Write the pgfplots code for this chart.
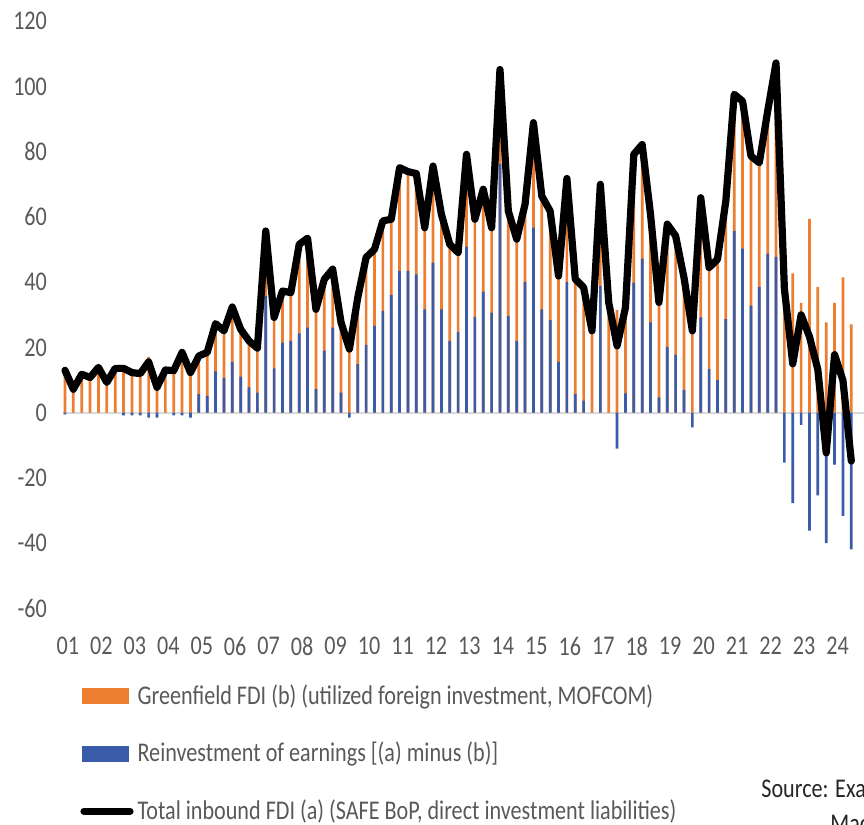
\documentclass[border=0pt]{standalone}
\usepackage{fontspec}
\setmainfont{Carlito}[FakeStretch=0.82]
\usepackage{pgfplots}
\pgfplotsset{compat=1.18}
\usepackage{pgfplotstable}
\definecolor{gfOrange}{HTML}{ED7D31}
\definecolor{riBlue}{HTML}{3A5BA8}
\definecolor{txtGray}{HTML}{595959}

\pgfplotstableread{
i t r
0 13.0 -0.5
1 7.2 0
2 11.8 0
3 10.8 0
4 13.9 0
5 9.3 0
6 13.6 0
7 13.6 -0.8
8 12.3 -0.8
9 12.0 -0.8
10 15.6 -1.5
11 7.8 -1.5
12 13.1 0
13 12.9 -0.8
14 18.5 -0.8
15 12.3 -1.5
16 17.4 5.7
17 18.5 5.2
18 27.3 12.7
19 25.1 10.6
20 32.4 15.6
21 25.6 11.1
22 22.0 7.8
23 19.8 6.2
24 55.7 35.8
25 29.2 13.6
26 37.3 21.5
27 36.8 22.0
28 51.6 24.3
29 53.5 26.1
30 31.7 7.2
31 40.9 19.0
32 44.0 26.1
33 27.7 6.2
34 19.5 -1.5
35 35.3 14.9
36 47.6 20.8
37 50.1 26.6
38 58.8 31.2
39 59.3 36.1
40 75.1 43.5
41 73.9 43.5
42 73.3 42.4
43 56.7 31.7
44 75.6 46.0
45 60.8 31.7
46 51.6 22.0
47 49.1 24.8
48 79.2 50.9
49 59.3 29.4
50 68.5 37.1
51 56.7 30.7
52 105.2 76.3
53 61.8 29.7
54 53.2 22.0
55 63.9 40.1
56 88.9 56.7
57 66.4 31.7
58 61.8 28.4
59 41.9 15.6
60 71.8 40.0
61 41.0 5.7
62 38.4 3.7
63 25.1 0
64 70.0 38.9
65 33.8 0
66 20.5 -11.0
67 32.2 5.9
68 79.2 39.9
69 82.2 47.2
70 60.8 27.7
71 33.8 4.7
72 57.8 20.2
73 54.2 17.8
74 41.4 7.0
75 25.1 -4.5
76 65.9 29.2
77 44.5 13.4
78 47.0 10.0
79 64.9 28.7
80 97.6 55.7
81 95.5 50.3
82 78.7 32.8
83 76.6 38.6
84 92.4 48.8
85 107.2 47.8
86 38.0 -15.3
87 15.0 -27.7
88 30.0 -3.7
89 23.3 -36.1
90 13.2 -25.3
91 -12.3 -40.0
92 17.8 -15.9
93 9.9 -31.6
94 -14.8 -41.9
}\fdidata

\begin{document}
\begin{tikzpicture}[font=\fontsize{13.5pt}{16pt}\selectfont]
\begin{axis}[
  at={(0,0)}, anchor=south west,
  scale only axis, width=397.35pt, height=293.65pt,
  xmin=-0.5, xmax=94.5, ymin=-60, ymax=120,
  clip=false,
  axis line style={draw=none},
  major tick length=0pt,
  ytick={-60,-40,-20,0,20,40,60,80,100,120},
  yticklabels={-60,-40,-20,0,20,40,60,80,100,120},
  xtick={0.35,4.35,8.35,12.35,16.35,20.35,24.35,28.35,32.35,36.35,40.35,44.35,48.35,52.35,56.35,60.35,64.35,68.35,72.35,76.35,80.35,84.35,88.35,92.35},
  xticklabels={01,02,03,04,05,06,07,08,09,10,11,12,13,14,15,16,17,18,19,20,21,22,23,24},
  ticklabel style={text=txtGray},
  yticklabel style={anchor=east, xshift=-3.4pt},
  xticklabel style={anchor=north, yshift=-10.75pt},
  legend style={draw=none, fill=none, at={(axis description cs:0.0166,-0.1149)}, anchor=north west,
    row sep=13.5pt, column sep=0pt, text=txtGray},
  legend cell align=left,
]
\addplot[forget plot, color=black!15, line width=1.1pt] coordinates {(-0.2,0) (97,0)};
\addplot[ybar, bar width=1.35pt, bar shift=0pt, fill=gfOrange, draw=none,
  legend image code/.code={\fill[gfOrange] (0pt,-4pt) rectangle (23.5pt,4pt);}]
  table[x=i, y expr={\thisrow{t}-min(\thisrow{r},0)}] {\fdidata};
\addlegendentry{Greenfield FDI (b) (utilized foreign investment, MOFCOM)}
\addplot[ybar, bar width=1.35pt, bar shift=0pt, fill=riBlue, draw=none,
  legend image code/.code={\fill[riBlue] (0pt,-4pt) rectangle (23.5pt,4pt);}]
  table[x=i, y=r] {\fdidata};
\addlegendentry{Reinvestment of earnings [(a) minus (b)]}
\addplot[black, line width=3.6pt, line join=round, line cap=round,
  legend image code/.code={\draw[black, line width=3.6pt, line cap=round] (1pt,0pt) -- (24pt,0pt);}]
  table[x=i, y=t] {\fdidata};
\addlegendentry{Total inbound FDI (a) (SAFE BoP, direct investment liabilities)}
\end{axis}
\node[anchor=base west, inner sep=0pt, text=black!85] at (350.1pt,-94.75pt) {Source: Exante Data,};
\node[anchor=base west, inner sep=0pt, text=black!85] at (384.6pt,-112.25pt) {Macrobond};
\pgfresetboundingbox
\useasboundingbox (-30.4pt,-108.25pt) rectangle (401.6pt,304.25pt);
\end{tikzpicture}
\end{document}
